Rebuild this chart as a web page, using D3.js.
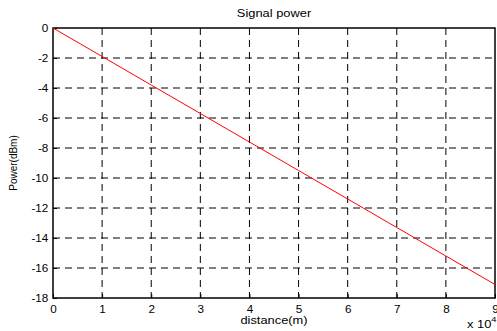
<!DOCTYPE html>
<html>
<head>
<meta charset="utf-8">
<script src="https://cdn.jsdelivr.net/npm/d3@7"></script>
<style>
  body { margin: 0; background: #fff; }
  svg { display: block; font-family: Arial, "Liberation Sans", sans-serif; }
</style>
</head>
<body>
<svg id="chart" width="497" height="331"></svg>
<script>
// Received signal power along the link, sampled every 10 km
const distance = [0, 10000, 20000, 30000, 40000, 50000, 60000, 70000, 80000, 90000];
const power = [0, -1.9, -3.8, -5.7, -7.6, -9.5, -11.4, -13.3, -15.2, -17.1];
const xTicks = [0, 1, 2, 3, 4, 5, 6, 7, 8, 9];
const yTicks = [0, -2, -4, -6, -8, -10, -12, -14, -16, -18];

const svg = d3.select("#chart");
const margin = { top: 28, right: 2, bottom: 33, left: 53 };
const W = 497, H = 331;
const iw = W - margin.left - margin.right;
const ih = H - margin.top - margin.bottom;
const stretch = 1.17; // horizontal widening of the lettering

const x = d3.scaleLinear().domain([0, 90000]).range([0, iw]);
const y = d3.scaleLinear().domain([-18, 0]).range([ih, 0]);

const g = svg.append("g").attr("transform", `translate(${margin.left},${margin.top})`);

// dashed grid
g.append("g").selectAll("line.vg")
  .data(xTicks.slice(1, -1)).join("line")
  .attr("x1", d => x(d * 1e4)).attr("x2", d => x(d * 1e4))
  .attr("y1", 0).attr("y2", ih)
  .attr("stroke", "#000").attr("stroke-width", 1)
  .attr("stroke-dasharray", "7,5");
g.append("g").selectAll("line.hg")
  .data(yTicks.slice(1, -1)).join("line")
  .attr("x1", 0).attr("x2", iw)
  .attr("y1", d => y(d)).attr("y2", d => y(d))
  .attr("stroke", "#000").attr("stroke-width", 1)
  .attr("stroke-dasharray", "7,5");

// axes with inward ticks
const xAxis = d3.axisBottom(x).tickValues(xTicks.map(d => d * 1e4))
  .tickFormat((d, i) => xTicks[i]).tickSizeInner(-4).tickSizeOuter(0).tickPadding(8);
const yAxis = d3.axisLeft(y).tickValues(yTicks)
  .tickFormat(d => d).tickSizeInner(-4).tickSizeOuter(0).tickPadding(4);

const gx = g.append("g").attr("transform", `translate(0,${ih})`).call(xAxis);
const gy = g.append("g").call(yAxis);
[gx, gy].forEach(a => {
  a.select(".domain").remove();
  a.selectAll("line").attr("stroke", "#000");
  a.selectAll("text").attr("font-size", 10).attr("fill", "#000")
    .attr("font-family", "Arial, 'Liberation Sans', sans-serif")
    .attr("transform", `scale(${stretch},1)`);
});

// box
g.append("rect").attr("x", 0).attr("y", 0).attr("width", iw).attr("height", ih)
  .attr("fill", "none").attr("stroke", "#000").attr("stroke-width", 1.5);

// signal line
g.append("path").datum(distance.map((d, i) => [d, power[i]]))
  .attr("fill", "none").attr("stroke", "#f00").attr("stroke-width", 1)
  .attr("d", d3.line().x(d => x(d[0])).y(d => y(d[1])));

// titles
svg.append("text").attr("transform", `translate(${margin.left + iw / 2},17) scale(${stretch},1)`)
  .attr("text-anchor", "middle").attr("font-size", 11).text("Signal power");
svg.append("text").attr("transform", `translate(${margin.left + iw / 2},324) scale(${stretch},1)`)
  .attr("text-anchor", "middle").attr("font-size", 11).text("distance(m)");
svg.append("text").attr("transform", `translate(17,${margin.top + ih / 2}) rotate(-90)`)
  .attr("text-anchor", "middle").attr("font-size", 10).text("Power(dBm)");

// exponent label
const ex = svg.append("text").attr("transform", `translate(467,328) scale(${stretch},1)`)
  .attr("font-size", 11);
ex.append("tspan").text("x 10");
ex.append("tspan").attr("dy", -6).attr("font-size", 8).text("4");
</script>
</body>
</html>
